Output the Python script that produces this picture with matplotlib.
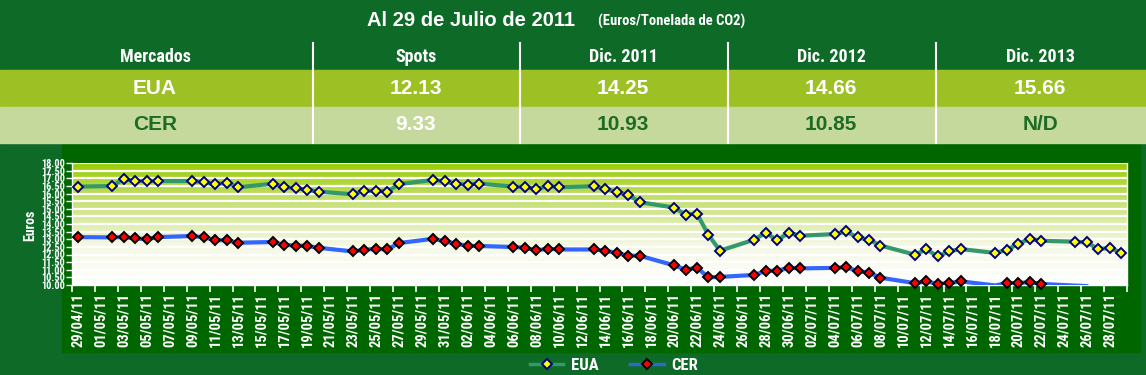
import numpy as np
import pandas as pd
import matplotlib
matplotlib.use("Agg")
import matplotlib.pyplot as plt
import matplotlib.dates as mdates
from matplotlib.lines import Line2D
from matplotlib.patches import Rectangle
from matplotlib.colors import LinearSegmentedColormap

# ---- tabla de precios ----
titulo = "Al 29 de Julio de 2011"
subtitulo = "(Euros/Tonelada de CO2)"
encabezados = ["Mercados", "Spots", "Dic. 2011", "Dic. 2012", "Dic. 2013"]
fila_eua = ["EUA", "12.13", "14.25", "14.66", "15.66"]
fila_cer = ["CER", "9.33", "10.93", "10.85", "N/D"]

# ---- serie diaria ----
fechas = ["29/04/11",
          "02/05/11", "03/05/11", "04/05/11", "05/05/11", "06/05/11",
          "09/05/11", "10/05/11", "11/05/11", "12/05/11", "13/05/11",
          "16/05/11", "17/05/11", "18/05/11", "19/05/11", "20/05/11",
          "23/05/11", "24/05/11", "25/05/11", "26/05/11", "27/05/11",
          "30/05/11", "31/05/11", "01/06/11", "02/06/11", "03/06/11",
          "06/06/11", "07/06/11", "08/06/11", "09/06/11", "10/06/11",
          "13/06/11", "14/06/11", "15/06/11", "16/06/11", "17/06/11",
          "20/06/11", "21/06/11", "22/06/11", "23/06/11", "24/06/11",
          "27/06/11", "28/06/11", "29/06/11", "30/06/11", "01/07/11",
          "04/07/11", "05/07/11", "06/07/11", "07/07/11", "08/07/11",
          "11/07/11", "12/07/11", "13/07/11", "14/07/11", "15/07/11",
          "18/07/11", "19/07/11", "20/07/11", "21/07/11", "22/07/11",
          "25/07/11", "26/07/11", "27/07/11", "28/07/11", "29/07/11"]

eua = [16.45,
       16.49, 16.95, 16.82, 16.82, 16.82,
       16.82, 16.73, 16.60, 16.71, 16.41,
       16.64, 16.43, 16.35, 16.25, 16.12,
       15.95, 16.17, 16.17, 16.12, 16.61,
       16.89, 16.80, 16.63, 16.58, 16.65,
       16.45, 16.43, 16.32, 16.48, 16.41,
       16.48, 16.32, 16.08, 15.93, 15.43,
       15.08, 14.62, 14.67, 13.29, 12.25,
       12.97, 13.44, 12.92, 13.44, 13.23,
       13.34, 13.51, 13.12, 12.97, 12.59,
       11.99, 12.33, 11.88, 12.20, 12.36,
       12.10, 12.29, 12.69, 13.03, 12.90,
       12.84, 12.79, 12.36, 12.42, 12.13]

cer = [13.14,
       13.12, 13.14, 13.05, 13.01, 13.14,
       13.21, 13.12, 12.95, 12.92, 12.77,
       12.82, 12.63, 12.59, 12.56, 12.44,
       12.20, 12.31, 12.38, 12.33, 12.75,
       13.03, 12.86, 12.71, 12.56, 12.56,
       12.49, 12.44, 12.27, 12.38, 12.33,
       12.33, 12.25, 12.10, 11.92, 11.92,
       11.29, 11.01, 11.14, 10.50, 10.53,
       10.66, 10.92, 10.94, 11.12, 11.09,
       11.12, 11.16, 10.92, 10.81, 10.48,
       10.12, 10.23, 10.07, 10.12, 10.24,
       9.97, 10.12, 10.12, 10.19, 10.07,
       9.96, 9.93, 9.50, 9.42, 9.33]

ymin, ymax = 10.0, 18.0

NARROW = ["Roboto Condensed", "DejaVu Sans"]
BOLD = ["Liberation Sans", "DejaVu Sans"]

W, H = 1146, 375
def fx(px):
    return px / W
def fy(py):
    return 1 - py / H

fig = plt.figure(figsize=(W / 100, H / 100), dpi=100, facecolor="#0D6A27")

# fondos
fig.patches.append(Rectangle((fx(62), fy(352)), fx(1140) - fx(62), fy(144) - fy(352),
                             transform=fig.transFigure, color="#006600", zorder=-5))
fig.patches.append(Rectangle((0, fy(107)), 1, fy(70) - fy(107),
                             transform=fig.transFigure, color="#9DC124", zorder=-5))
fig.patches.append(Rectangle((0, fy(143)), 1, fy(107) - fy(143),
                             transform=fig.transFigure, color="#C6D99D", zorder=-5))

# separadores de la tabla
for xs in [313, 520, 728, 936]:
    fig.add_artist(Line2D([fx(xs), fx(xs)], [fy(43), fy(143)], color="white", lw=1.5,
                          transform=fig.transFigure))

fig.text(fx(471), fy(20), titulo, color="white", fontsize=14.5, fontweight="bold",
         family=BOLD, ha="center", va="center")
fig.text(fx(598), fy(21), subtitulo, color="white", fontsize=10.5, fontweight="bold",
         family=NARROW, ha="left", va="center")

centros = [155, 416, 623, 831, 1040]
for cx, h, e, c in zip(centros, encabezados, fila_eua, fila_cer):
    fig.text(fx(cx), fy(57), h, color="white", fontsize=13, fontweight="bold",
             family=NARROW, ha="center", va="center")
    fig.text(fx(cx), fy(89), e, color="white", fontsize=15, fontweight="bold",
             family=BOLD, ha="center", va="center")
    col_c = "white" if c == fila_cer[1] else "#1E6B26"
    fig.text(fx(cx), fy(125), c, color=col_c, fontsize=15, fontweight="bold",
             family=BOLD, ha="center", va="center")

# ---- grafico ----
ax = fig.add_axes([fx(72), fy(285), fx(1127) - fx(72), fy(163) - fy(285)])
ax.set_zorder(2)
ax.set_facecolor("none")

dias = pd.to_datetime(fechas, format="%d/%m/%y")
x0 = pd.Timestamp("2011-04-29") - pd.Timedelta(hours=12)
x1 = pd.Timestamp("2011-07-29") + pd.Timedelta(hours=12)

grad = LinearSegmentedColormap.from_list("g", ["#FFFFFF", "#F4F8E2", "#C9E27A", "#99CC00"])
ax.imshow(np.linspace(1, 0, 256).reshape(-1, 1), cmap=grad, aspect="auto",
          extent=[0, 1, 0, 1], transform=ax.transAxes, zorder=0)

ax.set_xlim(x0, x1)
ax.set_ylim(ymin, ymax)
ax.set_yticks(np.arange(10, 18.01, 0.5))
ax.set_yticklabels([f"{v:.2f}" for v in np.arange(10, 18.01, 0.5)])
ax.yaxis.grid(True, color="white", lw=1.6)
ax.set_axisbelow(True)

etiquetas = pd.date_range("2011-04-29", "2011-07-28", freq="2D")
ax.set_xticks(mdates.date2num(etiquetas))
ax.set_xticklabels([d.strftime("%d/%m/%y") for d in etiquetas], rotation=90)
bordes = etiquetas - pd.Timedelta(hours=12)
ax.set_xticks(mdates.date2num(bordes.append(pd.DatetimeIndex([x1]))), minor=True)
ax.tick_params(axis="x", which="major", length=0, pad=6, colors="white")
ax.tick_params(axis="x", which="minor", length=5, width=1.2, color="white", direction="out")
ax.tick_params(axis="y", length=4, width=1, color="white", pad=1, labelcolor="white")
for lab in ax.get_xticklabels():
    lab.set_fontfamily(NARROW)
    lab.set_fontweight("bold")
    lab.set_fontsize(10.5)
for lab in ax.get_yticklabels():
    lab.set_fontfamily(NARROW)
    lab.set_fontsize(7.5)
    lab.set_fontweight("bold")

ax.spines["top"].set_visible(False)
for s in ["left", "bottom", "right"]:
    ax.spines[s].set_color("white")
    ax.spines[s].set_linewidth(1)

fig.text(fx(30), fy(225), "Euros", rotation=90, color="white", fontsize=10,
         fontweight="bold", family=NARROW, ha="center", va="center", zorder=3)

eua_a = np.array(eua)
cer_a = np.array(cer)

ax.plot(dias, eua_a, color="#33996A", lw=3, zorder=3, solid_joinstyle="round")
ax.plot(dias, cer_a, color="#3366FF", lw=3, zorder=3, solid_joinstyle="round")
ax.plot(dias, np.ma.masked_less(eua_a, ymin), ls="none", marker="D", ms=4.8,
        mfc="#FFFF00", mec="#000080", mew=1.4, zorder=4, clip_on=False)
ax.plot(dias, np.ma.masked_less(cer_a, ymin), ls="none", marker="D", ms=4.8,
        mfc="#FF0000", mec="#000000", mew=1.4, zorder=4, clip_on=False)

h_eua = Line2D([], [], color="#33996A", lw=2.5, marker="D", ms=4.8, mfc="#FFFF00",
               mec="#000080", mew=1.4)
h_cer = Line2D([], [], color="#3366CC", lw=2.5, marker="D", ms=4.8, mfc="#FF0000",
               mec="#000000", mew=1.4)
leg = fig.legend([h_eua, h_cer], ["EUA", "CER"], loc="center", ncol=2,
                 bbox_to_anchor=(fx(614), fy(365)), frameon=False, handlelength=2.0,
                 columnspacing=1.9, handletextpad=0.45,
                 prop={"family": NARROW, "weight": "bold", "size": 12})
for t in leg.get_texts():
    t.set_color("white")

fig.savefig("out.png", dpi=100, facecolor=fig.get_facecolor())
